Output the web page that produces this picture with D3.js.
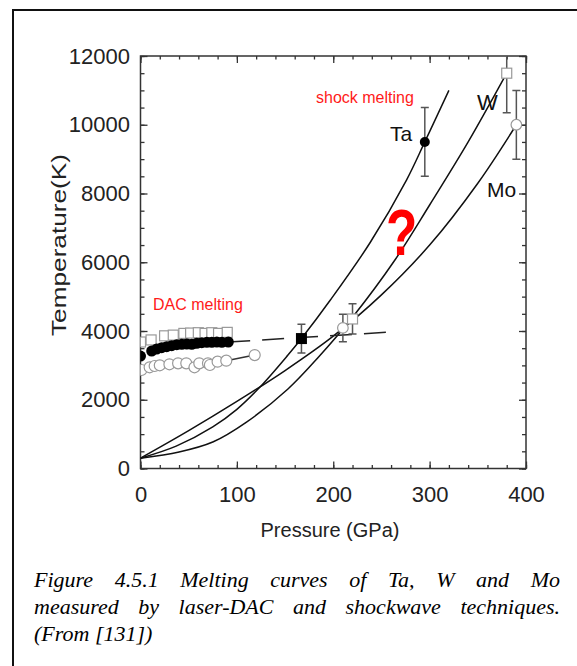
<!DOCTYPE html>
<html><head><meta charset="utf-8">
<script src="https://cdn.jsdelivr.net/npm/d3@7"></script>
<style>
html,body{margin:0;padding:0;background:#fff;}
svg{display:block;}
</style></head>
<body>
<svg id="c" width="577" height="666"></svg>
<script>
// ---------- data ----------
const xTicks = [0, 100, 200, 300, 400];
const yTicks = [0, 2000, 4000, 6000, 8000, 10000, 12000];

// melting curves (Hugoniot)
const taCurveP = [0, 37, 75, 100, 124, 153, 167, 197, 238, 276, 295, 320];
const taCurveT = [300, 650, 1210, 1720, 2370, 3300, 3780, 4900, 6560, 8390, 9500, 11000];
const wCurveP  = [0, 40, 75, 110, 153, 185, 220, 264, 300, 340, 380];
const wCurveT  = [300, 480, 770, 1350, 2313, 3250, 4400, 6065, 7665, 9500, 11500];
const moCurveP = [0, 50, 100, 150, 200, 250, 300, 350, 390];
const moCurveT = [300, 1100, 1950, 2850, 3850, 5050, 6500, 8300, 10000];

// DAC melting data
const dacWP  = [0, 11, 25, 34, 45, 52, 60, 67, 74, 81, 90];
const dacWT  = [3680, 3740, 3860, 3880, 3930, 3940, 3950, 3930, 3950, 3930, 3960];
const dacTaP = [0, 11.6, 16.8, 22, 27.2, 32.4, 37.6, 42.8, 48, 53.2, 58.4, 63.6, 68.8, 74, 79.2, 84.4, 91.1];
const dacTaT = [3270, 3418, 3476, 3514, 3544, 3573, 3602, 3612, 3622, 3612, 3641, 3660, 3670, 3670, 3680, 3670, 3680];
const dacMoP = [1, 9.5, 14.7, 20, 30, 39, 47.5, 56, 61, 70, 72, 80, 89, 118.5];
const dacMoT = [2865, 2944, 2982, 3002, 3031, 3060, 3060, 2944, 3060, 3060, 3011, 3108, 3137, 3300];

// extrapolations
const dashP = [91, 259];
const dashT = [3680, 3970];
const moLineP = [89, 118.5];
const moLineT = [3137, 3300];

// shock melting points
const shockP    = [167, 210, 220, 295, 380, 390];
const shockT    = [3780, 4090, 4350, 9500, 11500, 10000];
const shockErr  = [420, 400, 440, 1000, 1150, 1000];
const shockKind = ["filledSquare", "openCircle", "openSquare", "filledCircle", "openSquare", "openCircle"];

const captionLines = [
  "Figure 4.5.1 Melting curves of Ta, W and Mo",
  "measured by laser-DAC and shockwave techniques.",
  "(From [131])"
];

// ---------- drawing ----------
const svg = d3.select("#c");
const x = d3.scaleLinear().domain([0, 400]).range([140.5, 526]);
const y = d3.scaleLinear().domain([0, 12000]).range([468.5, 56]);
const FONT = "'Liberation Sans', Arial, sans-serif";

// outer frame
svg.append("rect").attr("x", 13).attr("y", 10).attr("width", 700).attr("height", 700)
  .attr("fill", "none").attr("stroke", "#111").attr("stroke-width", 2);

svg.append("defs").append("clipPath").attr("id", "plotclip")
  .append("rect").attr("x", x(0)).attr("y", y(12000)).attr("width", x(400) - x(0)).attr("height", y(0) - y(12000));

const axisColor = "#333";
function styleAxis(g) {
  g.select(".domain").remove();
  g.selectAll("line").attr("stroke", axisColor).attr("stroke-width", 1.3);
  g.selectAll("text").attr("font-family", FONT).attr("font-size", 22).attr("fill", "#222");
}
const minorX = d3.range(0, 401, 20);
const minorY = d3.range(0, 12001, 500);

// minor ticks
svg.append("g").attr("transform", `translate(0,${y(0)})`)
  .call(d3.axisBottom(x).tickValues(minorX).tickSize(-3.5).tickFormat("")).call(styleAxis);
svg.append("g").attr("transform", `translate(0,${y(12000)})`)
  .call(d3.axisTop(x).tickValues(minorX).tickSize(-3.5).tickFormat("")).call(styleAxis);
svg.append("g").attr("transform", `translate(${x(0)},0)`)
  .call(d3.axisLeft(y).tickValues(minorY).tickSize(-4).tickFormat("")).call(styleAxis);
svg.append("g").attr("transform", `translate(${x(400)},0)`)
  .call(d3.axisRight(y).tickValues(minorY).tickSize(-4).tickFormat("")).call(styleAxis);
// major ticks + labels
svg.append("g").attr("transform", `translate(0,${y(0)})`)
  .call(d3.axisBottom(x).tickValues(xTicks).tickSize(-7).tickPadding(18).tickFormat(d3.format("d"))).call(styleAxis);
svg.append("g").attr("transform", `translate(0,${y(12000)})`)
  .call(d3.axisTop(x).tickValues(xTicks).tickSize(-7).tickFormat("")).call(styleAxis);
svg.append("g").attr("transform", `translate(${x(0)},0)`)
  .call(d3.axisLeft(y).tickValues(yTicks).tickSize(-7).tickPadding(10.5).tickFormat(d3.format("d"))).call(styleAxis);
svg.append("g").attr("transform", `translate(${x(400)},0)`)
  .call(d3.axisRight(y).tickValues(yTicks).tickSize(-7).tickFormat("")).call(styleAxis);

// plot frame
svg.append("rect").attr("x", x(0)).attr("y", y(12000)).attr("width", x(400) - x(0)).attr("height", y(0) - y(12000))
  .attr("fill", "none").attr("stroke", axisColor).attr("stroke-width", 1.5);

// axis titles
svg.append("text").attr("x", 330).attr("y", 537).attr("text-anchor", "middle")
  .attr("font-family", FONT).attr("font-size", 20).attr("fill", "#222").text("Pressure (GPa)");
svg.append("text").attr("transform", "translate(66,245) rotate(-90)").attr("text-anchor", "middle")
  .attr("font-family", FONT).attr("font-size", 20).attr("fill", "#222")
  .attr("textLength", 182).attr("lengthAdjust", "spacingAndGlyphs").text("Temperature(K)");

const plot = svg.append("g").attr("clip-path", "url(#plotclip)");

// melting curves
const line = d3.line().x(d => x(d[0])).y(d => y(d[1])).curve(d3.curveCatmullRom.alpha(0.5));
[[taCurveP, taCurveT], [wCurveP, wCurveT], [moCurveP, moCurveT]].forEach(([P, T]) => {
  plot.append("path").attr("d", line(P.map((p, i) => [p, T[i]])))
    .attr("fill", "none").attr("stroke", "#111").attr("stroke-width", 1.5);
});

// dashed extrapolation and Mo DAC line
const straight = d3.line().x(d => x(d[0])).y(d => y(d[1]));
plot.append("path").attr("d", straight(dashP.map((p, i) => [p, dashT[i]])))
  .attr("fill", "none").attr("stroke", "#222").attr("stroke-width", 1.5).attr("stroke-dasharray", "22 12");
plot.append("path").attr("d", straight(moLineP.map((p, i) => [p, moLineT[i]])))
  .attr("fill", "none").attr("stroke", "#333").attr("stroke-width", 1.5);

// DAC data
plot.append("g").selectAll("rect").data(dacWP.map((p, i) => [p, dacWT[i]])).join("rect")
  .attr("x", d => x(d[0]) - 5).attr("y", d => y(d[1]) - 5).attr("width", 10).attr("height", 10)
  .attr("fill", "#fff").attr("stroke", "#999").attr("stroke-width", 1.2);
plot.append("g").selectAll("circle").data(dacMoP.map((p, i) => [p, dacMoT[i]])).join("circle")
  .attr("cx", d => x(d[0])).attr("cy", d => y(d[1])).attr("r", 5.5)
  .attr("fill", "#fff").attr("stroke", "#999").attr("stroke-width", 1.2);
plot.append("g").selectAll("circle").data(dacTaP.map((p, i) => [p, dacTaT[i]])).join("circle")
  .attr("cx", d => x(d[0])).attr("cy", d => y(d[1])).attr("r", 5.5)
  .attr("fill", "#000");

// shock points with error bars
const shock = shockP.map((p, i) => ({ p, t: shockT[i], e: shockErr[i], k: shockKind[i] }));
const eb = plot.append("g").attr("stroke", "#555").attr("stroke-width", 1.5);
shock.forEach(d => {
  const cx = x(d.p);
  eb.append("line").attr("x1", cx).attr("x2", cx).attr("y1", y(d.t + d.e)).attr("y2", y(d.t - d.e));
  [d.t + d.e, d.t - d.e].forEach(v => {
    eb.append("line").attr("x1", cx - 4).attr("x2", cx + 4).attr("y1", y(v)).attr("y2", y(v));
  });
});
const mk = plot.append("g");
shock.forEach(d => {
  const cx = x(d.p), cy = y(d.t);
  if (d.k === "filledSquare") mk.append("rect").attr("x", cx - 5.5).attr("y", cy - 5.5).attr("width", 11).attr("height", 11).attr("fill", "#000");
  if (d.k === "openSquare") mk.append("rect").attr("x", cx - 5).attr("y", cy - 5).attr("width", 10).attr("height", 10).attr("fill", "#fff").attr("stroke", "#999").attr("stroke-width", 1.2);
  if (d.k === "filledCircle") mk.append("circle").attr("cx", cx).attr("cy", cy).attr("r", 5).attr("fill", "#000");
  if (d.k === "openCircle") mk.append("circle").attr("cx", cx).attr("cy", cy).attr("r", 5.3).attr("fill", "#fff").attr("stroke", "#999").attr("stroke-width", 1.2);
});

// labels
function label(t, px, py, size, color) {
  return svg.append("text").attr("x", px).attr("y", py).attr("font-family", FONT)
    .attr("font-size", size).attr("fill", color).text(t);
}
label("Ta", 390, 141, 21, "#111");
label("W", 477, 110, 22, "#111");
label("Mo", 487, 197, 21, "#111");
label("shock melting", 316, 103, 16, "#ff1a1a");
label("DAC melting", 153, 310, 16, "#ff1a1a");
svg.append("text").attr("transform", "translate(386,255) scale(0.8,1)")
  .attr("font-family", FONT).attr("font-weight", "bold").attr("font-size", 64).attr("fill", "#ff0000").text("?");

// caption (justified)
const capX0 = 34, capX1 = 560;
captionLines.forEach((ln, li) => {
  const by = 587 + li * 27;
  const words = ln.split(" ");
  const g = svg.append("g");
  const nodes = words.map(w => g.append("text").attr("y", by)
    .attr("font-family", "'Liberation Serif', 'Times New Roman', serif").attr("font-style", "italic")
    .attr("font-size", 22).attr("fill", "#000").text(w));
  const widths = nodes.map(n => n.node().getComputedTextLength());
  const total = d3.sum(widths);
  const justify = li < captionLines.length - 1;
  const gap = justify ? (capX1 - capX0 - total) / (words.length - 1) : 5.5;
  let cx = capX0;
  nodes.forEach((n, i) => { n.attr("x", cx); cx += widths[i] + gap; });
});
</script>
</body></html>
